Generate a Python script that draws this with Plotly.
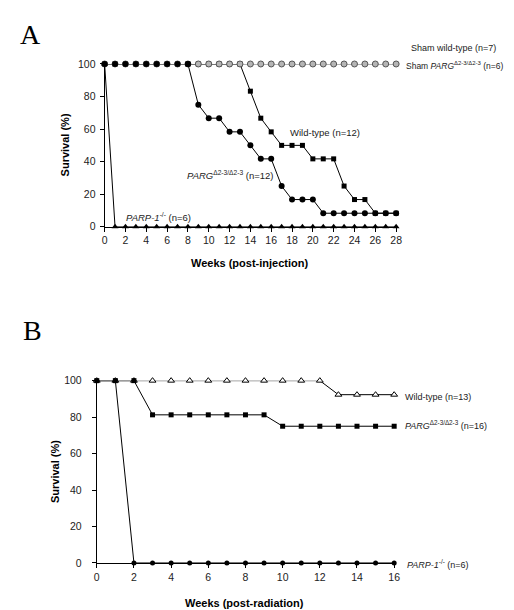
import plotly.graph_objects as go

# ---------------- Data ----------------
weeks_a = list(range(0, 29))
sham_a = [100] * 29
parp_a = [100] + [0] * 28
parg_a = [100] * 9 + [75, 66.7, 66.7, 58.3, 58.3, 50, 41.7, 41.7, 25, 16.7, 16.7, 16.7] + [8.3] * 8
wt_a = [100] * 14 + [83.3, 66.7, 58.3, 50, 50, 50, 41.7, 41.7, 41.7, 25, 16.7, 16.7, 8.3, 8.3, 8.3]

weeks_b = list(range(0, 17))
parp_b = [100, 100] + [0] * 15
parg_b = [100, 100, 100] + [81.25] * 7 + [75] * 7
wt_b = [100] * 13 + [92.3] * 4

xticks_a = list(range(0, 29, 2))
xticks_b = list(range(0, 17, 2))
yticks = [0, 20, 40, 60, 80, 100]

W, H = 514, 610

def px(x, y):
    return x / W, 1 - y / H

fig = go.Figure()

FONT = "Liberation Sans, Arial, sans-serif"

# Panel A traces
fig.add_trace(go.Scatter(x=weeks_a, y=wt_a, mode="lines+markers", xaxis="x", yaxis="y",
                         line=dict(color="black", width=1),
                         marker=dict(symbol="square", size=5, color="black"), cliponaxis=False))
fig.add_trace(go.Scatter(x=weeks_a, y=sham_a, mode="lines+markers", xaxis="x", yaxis="y",
                         line=dict(color="#666666", width=1),
                         marker=dict(symbol="circle", size=6, color="#b5b5b5",
                                     line=dict(color="#555555", width=1)), cliponaxis=False))
fig.add_trace(go.Scatter(x=weeks_a[:9], y=parg_a[:9], mode="markers", xaxis="x", yaxis="y",
                         marker=dict(symbol="circle", size=6, color="black"), cliponaxis=False))
fig.add_trace(go.Scatter(x=weeks_a[8:], y=parg_a[8:], mode="lines+markers", xaxis="x", yaxis="y",
                         line=dict(color="black", width=1),
                         marker=dict(symbol="circle", size=6, color="black"), cliponaxis=False))
fig.add_trace(go.Scatter(x=weeks_a, y=parp_a, mode="lines+markers", xaxis="x", yaxis="y",
                         line=dict(color="black", width=1),
                         marker=dict(symbol="triangle-up", size=6, color="black"), cliponaxis=False))

# Panel B traces
fig.add_trace(go.Scatter(x=weeks_b, y=parp_b, mode="lines+markers", xaxis="x2", yaxis="y2",
                         line=dict(color="black", width=1),
                         marker=dict(symbol="circle", size=5, color="black"), cliponaxis=False))
fig.add_trace(go.Scatter(x=weeks_b, y=wt_b, mode="lines+markers", xaxis="x2", yaxis="y2",
                         line=dict(color="black", width=1),
                         marker=dict(symbol="triangle-up", size=6, color="white",
                                     line=dict(color="black", width=1)), cliponaxis=False))
fig.add_trace(go.Scatter(x=weeks_b, y=parg_b, mode="lines+markers", xaxis="x2", yaxis="y2",
                         line=dict(color="black", width=1),
                         marker=dict(symbol="square", size=5, color="black"), cliponaxis=False))

axis_common = dict(showline=True, linecolor="black", linewidth=1, showgrid=False, zeroline=False,
                   ticks="outside", ticklen=4, tickcolor="black", tickwidth=1,
                   tickfont=dict(family=FONT, size=10.5, color="#222"))

ax_a = (95.3, 392.0); ay_a = (217.0, 51.0)
ax_b = (87.3, 390.0); ay_b = (560.0, 374.0)

fig.update_layout(
    width=W, height=H, margin=dict(l=0, r=0, t=0, b=0),
    paper_bgcolor="white", plot_bgcolor="white", showlegend=False,
    xaxis=dict(domain=[ax_a[0] / W, ax_a[1] / W], range=[0, 28], tickvals=xticks_a, anchor="y", **axis_common),
    yaxis=dict(domain=[1 - ay_a[0] / H, 1 - ay_a[1] / H], range=[0, 100], tickvals=yticks, anchor="x",
               ticklabelstandoff=2, **axis_common),
    xaxis2=dict(domain=[ax_b[0] / W, ax_b[1] / W], range=[0, 16], tickvals=xticks_b, anchor="y2", **axis_common),
    yaxis2=dict(domain=[1 - ay_b[0] / H, 1 - ay_b[1] / H], range=[0, 100], tickvals=yticks, anchor="x2",
                ticklabelstandoff=8, **axis_common),
)

def ann(x, y, text, size=9.5, bold=False, xanchor="left", angle=0, family=FONT, color="#222"):
    xx, yy = px(x, y)
    fig.add_annotation(x=xx, y=yy, xref="paper", yref="paper", text=text, showarrow=False,
                       xanchor=xanchor, yanchor="middle", textangle=angle,
                       font=dict(family=family, size=size, color=color))

# Panel labels
ann(20, 21, "A", size=28, xanchor="center", family="Liberation Serif, Times New Roman, serif", color="black")
ann(22, 323, "B", size=28, xanchor="center", family="Liberation Serif, Times New Roman, serif", color="black")

# Panel A titles
ann(243, 254, "<b>Weeks (post-injection)</b>", size=11, xanchor="center", color="black")
ann(55, 134, "<b>Survival (%)</b>", size=11, xanchor="center", angle=-90, color="black")

# Panel A labels
ann(405, 35, "Sham wild-type (n=7)", size=9)
ann(400, 53, "Sham <i>PARG</i><sup>Δ2-3/Δ2-3</sup> (n=6)", size=8.5)
ann(282, 121, "Wild-type (n=12)")
ann(177, 164, "<i>PARG</i><sup>Δ2-3/Δ2-3</sup> (n=12)")
ann(115, 207, "<i>PARP-1</i><sup>-/-</sup> (n=6)")

# Panel B titles
ann(238, 601, "<b>Weeks (post-radiation)</b>", size=11, xanchor="center", color="black")
ann(45, 467, "<b>Survival (%)</b>", size=11, xanchor="center", angle=-90, color="black")

# Panel B labels
ann(399, 391, "Wild-type (n=13)", size=9)
ann(399, 419, "<i>PARG</i><sup>Δ2-3/Δ2-3</sup> (n=16)", size=9)
ann(401, 561, "<i>PARP-1</i><sup>-/-</sup> (n=6)", size=9)

fig.write_html("out.html")
